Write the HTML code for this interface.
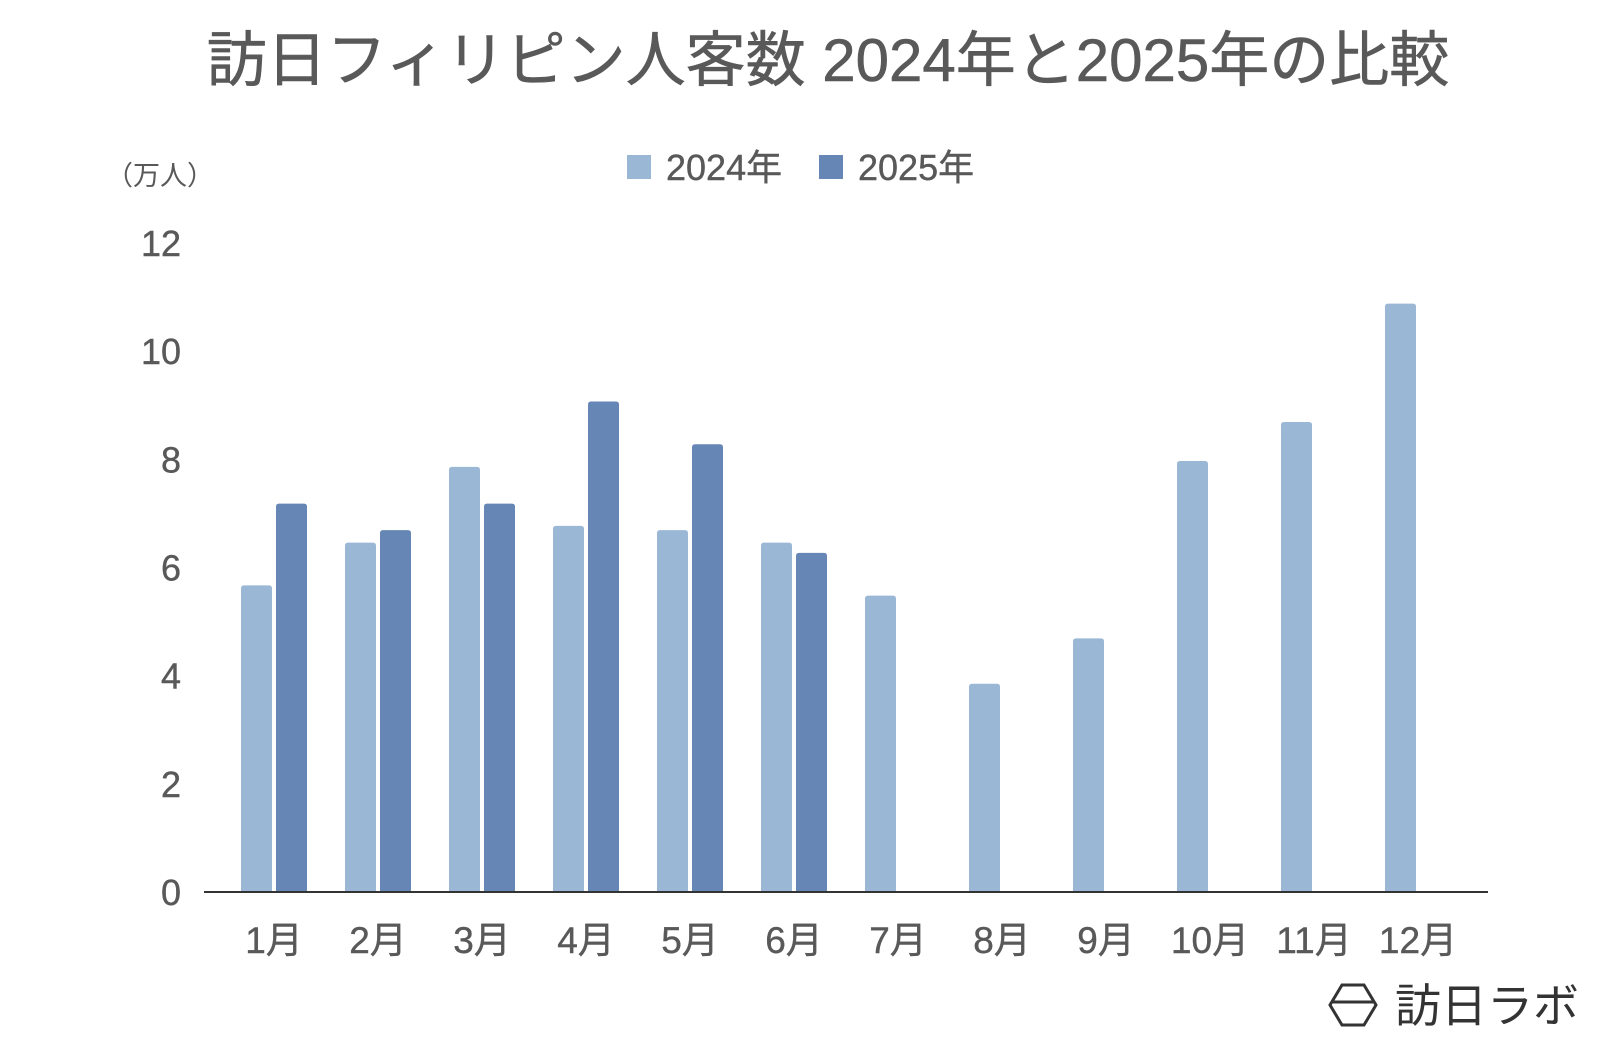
<!DOCTYPE html>
<html><head><meta charset="utf-8"><style>
html,body{margin:0;padding:0;background:#fff;}
svg text{font-family:"Liberation Sans","Noto Sans CJK JP",sans-serif;}
</style></head><body>
<svg id="chart" width="1600" height="1041" viewBox="0 0 1600 1041" xmlns="http://www.w3.org/2000/svg">
<rect width="1600" height="1041" fill="#fff"/>
<text x="828" y="81" text-anchor="middle" font-size="60" fill="#595959" stroke="#595959" stroke-width="0.6">訪日フィリピン人客数 2024年と2025年の比較</text>
<g>
<rect x="627" y="155" width="24" height="24" fill="#9bb7d6"/>
<text x="666" y="180" font-size="36" fill="#595959" stroke="#595959" stroke-width="0.4">2024年</text>
<rect x="819" y="155" width="24" height="24" fill="#6686b5"/>
<text x="858" y="180" font-size="36" fill="#595959" stroke="#595959" stroke-width="0.4">2025年</text>
</g>
<text x="160" y="185" text-anchor="middle" font-size="27" fill="#595959">（万人）</text>
<g id="yticks"></g>
<g id="bars"></g>
<g id="xlabels"></g>
<line x1="204" y1="892" x2="1488" y2="892" stroke="#333" stroke-width="2"/>
<g>
<polygon points="1342,985 1364,985 1376,1005 1364,1025 1342,1025 1330,1005" fill="none" stroke="#333" stroke-width="3"/>
<line x1="1333" y1="1002" x2="1373" y2="1002" stroke="#333" stroke-width="3"/>
<text x="1395" y="1022" font-size="46" fill="#333">訪日ラボ</text>
</g>
</svg>
<script>
const categories=["1月","2月","3月","4月","5月","6月","7月","8月","9月","10月","11月","12月"];
const values2024=[5.67,6.46,7.86,6.77,6.69,6.46,5.48,3.85,4.69,7.97,8.69,10.88];
const values2025=[7.18,6.69,7.18,9.07,8.28,6.27,null,null,null,null,null,null];
const yTicks=[0,2,4,6,8,10,12];
const NS="http://www.w3.org/2000/svg";
function yScale(v){return 892-v*(892-243)/12;}
function xCenter(i){return 274+i*104;}
function mk(tag,attrs,parent){const e=document.createElementNS(NS,tag);for(const k in attrs)e.setAttribute(k,attrs[k]);parent.appendChild(e);return e;}
const yt=document.getElementById('yticks'),bars=document.getElementById('bars'),xl=document.getElementById('xlabels');
yTicks.forEach(t=>{const e=mk('text',{x:181,y:yScale(t)+13,'text-anchor':'end','font-size':36,fill:'#595959',stroke:'#595959','stroke-width':0.4},yt);e.textContent=t;

});
function bar(x,v,color,name){if(v==null)return;const y=yScale(v),w=31;
const p=mk('path',{d:`M${x},892 L${x},${y+3} Q${x},${y} ${x+3},${y} L${x+w-3},${y} Q${x+w},${y} ${x+w},${y+3} L${x+w},892 Z`,fill:color},bars);

}
categories.forEach((c,i)=>{const cx=xCenter(i);
bar(cx-33,values2024[i],'#9bb7d6','bar-2024');
bar(cx+2,values2025[i],'#6686b5','bar-2025');
const t=mk('text',{x:cx,y:953,'text-anchor':'middle','font-size':37,fill:'#595959',stroke:'#595959','stroke-width':0.4},xl);t.textContent=c;

});
</script>
</body></html>
